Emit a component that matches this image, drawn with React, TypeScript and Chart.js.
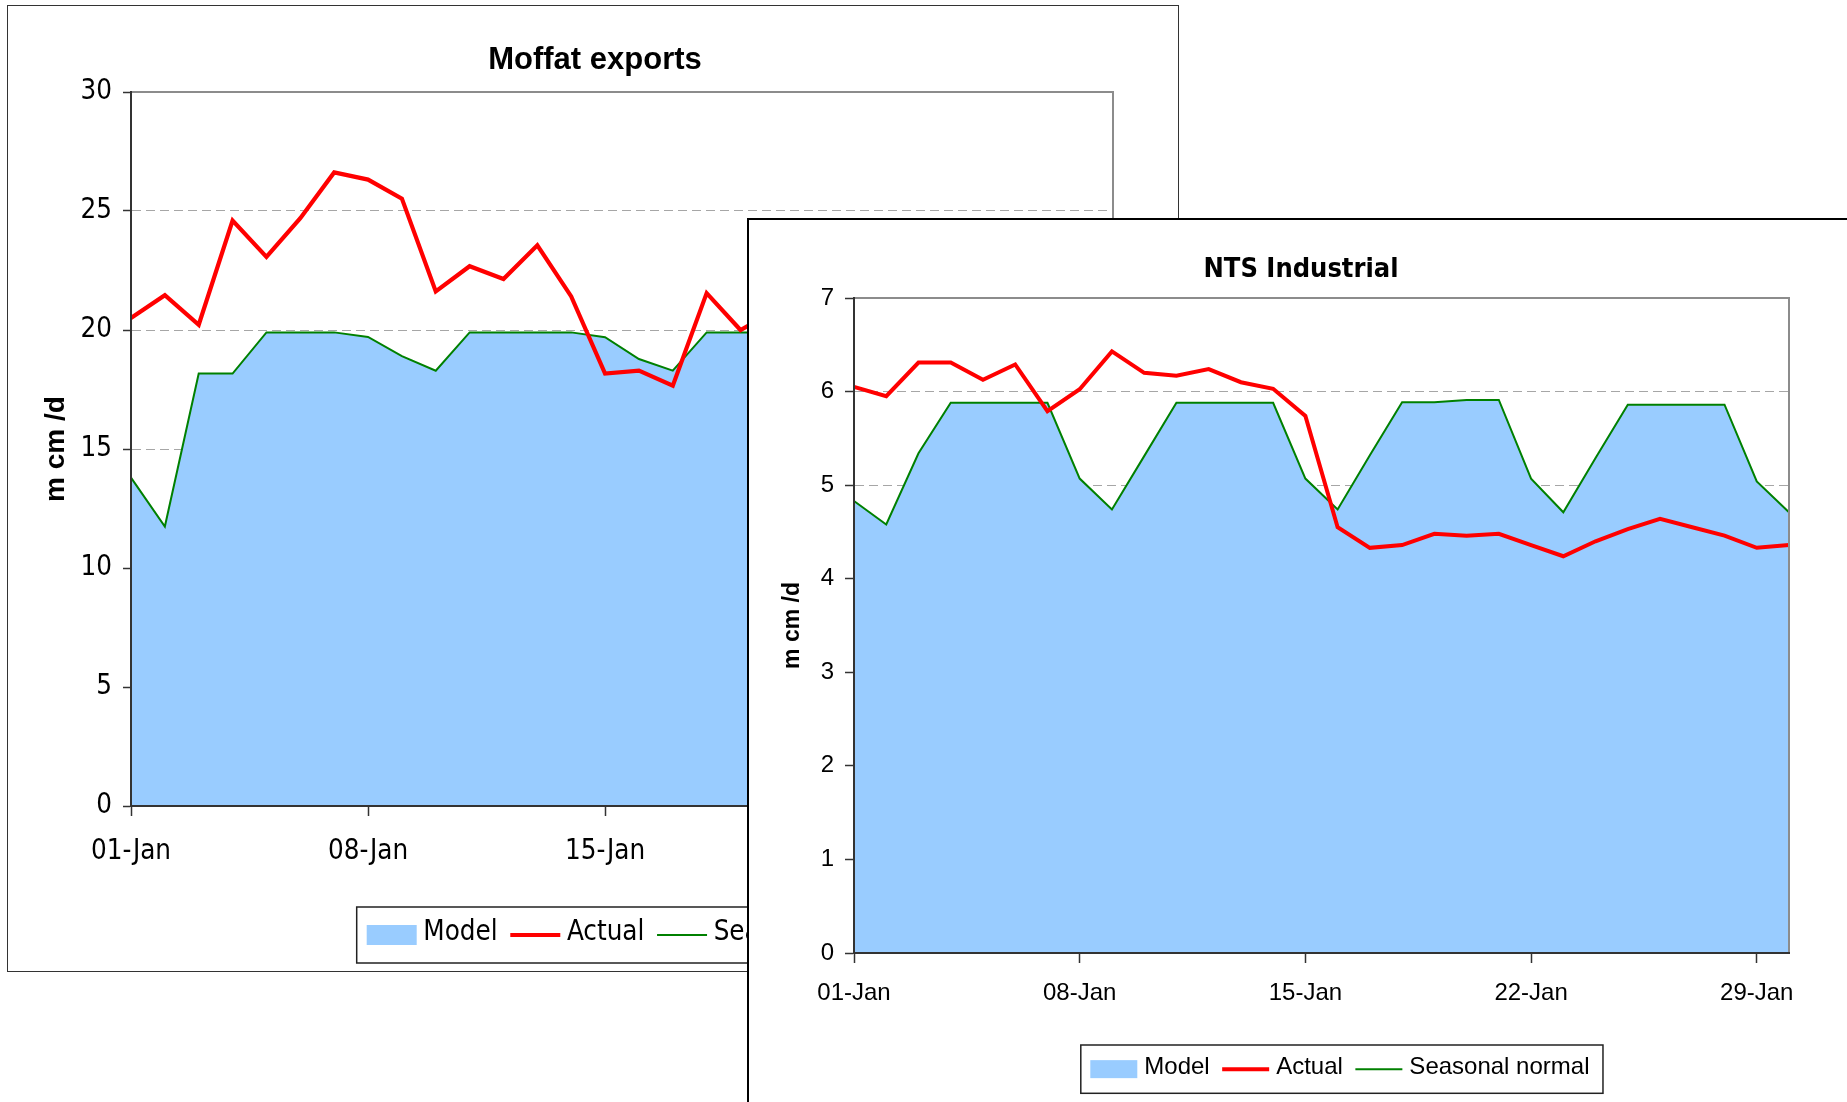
import React, { useEffect, useRef } from "react";
import { Chart, registerables } from "chart.js";

Chart.register(...registerables);

// ---------- data ----------
const days = [
  "01-Jan", "02-Jan", "03-Jan", "04-Jan", "05-Jan", "06-Jan", "07-Jan", "08-Jan", "09-Jan", "10-Jan",
  "11-Jan", "12-Jan", "13-Jan", "14-Jan", "15-Jan", "16-Jan", "17-Jan", "18-Jan", "19-Jan", "20-Jan",
  "21-Jan", "22-Jan", "23-Jan", "24-Jan", "25-Jan", "26-Jan", "27-Jan", "28-Jan", "29-Jan", "30-Jan",
];

const legendLabels = ["Model", "Actual", "Seasonal normal"];

const moffatModel = [
  13.8, 11.74, 18.17, 18.17, 19.9, 19.9, 19.9, 19.71, 18.9, 18.29,
  19.9, 19.9, 19.9, 19.9, 19.7, 18.78, 18.29, 19.9, 19.9, 19.9,
  19.9, 19.9, 19.7, 18.8, 18.3, 19.9, 19.9, 19.9, 19.9, 19.7,
];
const moffatActual = [
  20.5, 21.46, 20.22, 24.6, 23.07, 24.7, 26.62, 26.32, 25.52, 21.62,
  22.68, 22.14, 23.56, 21.41, 18.17, 18.29, 17.66, 21.55, 20.0, 20.8,
  21.3, 20.6, 19.5, 18.6, 18.9, 20.4, 21.0, 20.7, 19.8, 19.4,
];
const moffatSeasonal = [
  13.8, 11.74, 18.17, 18.17, 19.9, 19.9, 19.9, 19.71, 18.9, 18.29,
  19.9, 19.9, 19.9, 19.9, 19.7, 18.78, 18.29, 19.9, 19.9, 19.9,
  19.9, 19.9, 19.7, 18.8, 18.3, 19.9, 19.9, 19.9, 19.9, 19.7,
];

const ntsModel = [
  4.83, 4.58, 5.34, 5.88, 5.88, 5.88, 5.88, 5.07, 4.74, 5.31,
  5.88, 5.88, 5.88, 5.88, 5.07, 4.74, 5.32, 5.886, 5.886, 5.91,
  5.91, 5.07, 4.71, 5.29, 5.86, 5.86, 5.86, 5.86, 5.04, 4.71,
];
const ntsActual = [
  6.05, 5.95, 6.31, 6.31, 6.125, 6.29, 5.79, 6.025, 6.43, 6.2,
  6.17, 6.24, 6.1, 6.03, 5.74, 4.55, 4.33, 4.36, 4.48, 4.46,
  4.48, 4.36, 4.24, 4.4, 4.53, 4.64, 4.55, 4.46, 4.33, 4.36,
];
const ntsSeasonal = [
  4.83, 4.58, 5.34, 5.88, 5.88, 5.88, 5.88, 5.07, 4.74, 5.31,
  5.88, 5.88, 5.88, 5.88, 5.07, 4.74, 5.32, 5.886, 5.886, 5.91,
  5.91, 5.07, 4.71, 5.29, 5.86, 5.86, 5.86, 5.86, 5.04, 4.71,
];

// ---------- styling ----------
const SANS = "'Liberation Sans', Arial, sans-serif";
const NARROW = "'Liberation Sans Narrow', 'Arial Narrow', 'DejaVu Sans Condensed', sans-serif";
const MODEL_COLOR = "#99CCFF";
const ACTUAL_COLOR = "#FF0000";
const SEASONAL_COLOR = "#008000";

const framePlugin = {
  id: "plotFrame",
  afterDatasetsDraw(chart: any) {
    const { ctx, chartArea: a } = chart;
    ctx.save();
    ctx.strokeStyle = "#8c8c8c";
    ctx.lineWidth = 2;
    ctx.beginPath();
    ctx.moveTo(a.left, a.top);
    ctx.lineTo(a.right, a.top);
    ctx.lineTo(a.right, a.bottom);
    ctx.stroke();
    ctx.restore();
  },
};

const titlePlugin = {
  id: "fixedTitle",
  afterDraw(chart: any, _args: any, o: any) {
    const ctx = chart.ctx;
    ctx.save();
    ctx.font = o.font;
    ctx.fillStyle = "#000";
    ctx.textAlign = "center";
    ctx.textBaseline = "middle";
    ctx.fillText(o.text, o.x, o.y);
    ctx.restore();
  },
};

const boxLegendPlugin = {
  id: "boxLegend",
  afterDraw(chart: any, _args: any, o: any) {
    const ctx = chart.ctx;
    ctx.save();
    ctx.font = o.font;
    const cy = o.y + o.h / 2;
    let x = o.x + o.padL;
    const parts: any[] = [];
    for (const lab of legendLabels) {
      const ds = chart.data.datasets.find((d: any) => d.label === lab);
      const tw = ctx.measureText(lab).width;
      parts.push({ lab, ds, x });
      x += o.swatchW + o.textGap + tw + o.itemGap;
    }
    const w = x - o.itemGap + o.padR - o.x;
    ctx.fillStyle = "#fff";
    ctx.fillRect(o.x, o.y, w, o.h);
    ctx.strokeStyle = "#222";
    ctx.lineWidth = 1.5;
    ctx.strokeRect(o.x, o.y, w, o.h);
    for (const p of parts) {
      if (p.ds.fill) {
        ctx.fillStyle = p.ds.backgroundColor;
        ctx.fillRect(p.x, cy - o.swatchH / 2, o.swatchW, o.swatchH);
      } else {
        ctx.strokeStyle = p.ds.borderColor;
        ctx.lineWidth = p.ds.borderWidth;
        ctx.beginPath();
        ctx.moveTo(p.x, cy);
        ctx.lineTo(p.x + o.swatchW, cy);
        ctx.stroke();
      }
      ctx.fillStyle = "#000";
      ctx.textAlign = "left";
      ctx.textBaseline = "middle";
      ctx.fillText(p.lab, p.x + o.swatchW + o.textGap, cy + o.textDy);
    }
    ctx.restore();
  },
};

type Spec = {
  w: number;
  h: number;
  title: string;
  titleFont: string;
  titleX: number;
  titleY: number;
  model: number[];
  actual: number[];
  seasonal: number[];
  yMax: number;
  yStep: number;
  pad: { top: number; right: number; bottom: number; left: number };
  yWidth: number;
  xHeight: number;
  yTitleSize: number;
  yTitlePad: number;
  tickFamily: string;
  tickSize: number;
  yTickLen: number;
  yTickPad: number;
  xTickLen: number;
  xTickPad: number;
  redW: number;
  greenW: number;
  legend: any;
};

function buildConfig(s: Spec): any {
  return {
    type: "line",
    data: {
      labels: days,
      datasets: [
        {
          label: "Actual",
          data: s.actual,
          borderColor: ACTUAL_COLOR,
          backgroundColor: ACTUAL_COLOR,
          borderWidth: s.redW,
          pointRadius: 0,
          fill: false,
          tension: 0,
          order: 0,
        },
        {
          label: "Seasonal normal",
          data: s.seasonal,
          borderColor: SEASONAL_COLOR,
          backgroundColor: SEASONAL_COLOR,
          borderWidth: s.greenW,
          pointRadius: 0,
          fill: false,
          tension: 0,
          order: 1,
        },
        {
          label: "Model",
          data: s.model,
          borderColor: "rgba(0,0,0,0)",
          backgroundColor: MODEL_COLOR,
          borderWidth: 0,
          pointRadius: 0,
          fill: "origin",
          tension: 0,
          order: 2,
        },
      ],
    },
    options: {
      responsive: false,
      animation: false,
      devicePixelRatio: 1,
      events: [],
      layout: { padding: s.pad },
      plugins: {
        legend: { display: false },
        title: { display: false },
        tooltip: { enabled: false },
        fixedTitle: { text: s.title, font: s.titleFont, x: s.titleX, y: s.titleY },
        boxLegend: s.legend,
      },
      scales: {
        x: {
          type: "category",
          offset: false,
          afterFit: (scale: any) => {
            scale.height = s.xHeight;
          },
          ticks: {
            autoSkip: false,
            maxRotation: 0,
            minRotation: 0,
            color: "#000",
            padding: s.xTickPad,
            font: { family: s.tickFamily, size: s.tickSize },
            callback: (_v: any, i: number) => (i % 7 === 0 ? days[i] : ""),
          },
          grid: {
            drawOnChartArea: false,
            color: "rgba(0,0,0,0)",
            tickColor: (c: any) => (c.index % 7 === 0 ? "#333" : "rgba(0,0,0,0)"),
            tickLength: s.xTickLen,
            tickWidth: 1.5,
          },
          border: { color: "#333", width: 2, z: 1 },
        },
        y: {
          min: 0,
          max: s.yMax,
          afterFit: (scale: any) => {
            scale.width = s.yWidth;
          },
          ticks: {
            stepSize: s.yStep,
            color: "#000",
            padding: s.yTickPad,
            font: { family: s.tickFamily, size: s.tickSize },
          },
          grid: {
            color: (c: any) =>
              c.tick && (c.tick.value === 0 || c.tick.value === s.yMax) ? "rgba(0,0,0,0)" : "#a6a6a6",
            lineWidth: 1,
            tickColor: "#333",
            tickLength: s.yTickLen,
            tickWidth: 1.5,
          },
          border: { color: "#333", width: 2, dash: [9, 5], z: 1 },
          title: {
            display: true,
            text: "m cm /d",
            color: "#000",
            font: { family: SANS, size: s.yTitleSize, weight: "bold" },
            padding: { top: s.yTitlePad, bottom: 0 },
          },
        },
      },
    },
    plugins: [framePlugin, titlePlugin, boxLegendPlugin],
  };
}

function ChartBox({ spec, style }: { spec: Spec; style: React.CSSProperties }) {
  const ref = useRef<HTMLCanvasElement>(null);
  useEffect(() => {
    const chart = new Chart(ref.current as HTMLCanvasElement, buildConfig(spec));
    return () => chart.destroy();
  }, []);
  return (
    <div style={style}>
      <canvas
        ref={ref}
        width={spec.w}
        height={spec.h}
        style={{ display: "block", width: spec.w, height: spec.h }}
      />
    </div>
  );
}

const moffatSpec: Spec = {
  w: 1170,
  h: 965,
  title: "Moffat exports",
  titleFont: `bold 31px ${SANS}`,
  titleX: 587,
  titleY: 54,
  model: moffatModel,
  actual: moffatActual,
  seasonal: moffatSeasonal,
  yMax: 30,
  yStep: 5,
  pad: { top: 86, right: 65, bottom: 105, left: 0 },
  yWidth: 123,
  xHeight: 60,
  yTitleSize: 28,
  yTitlePad: 31,
  tickFamily: NARROW,
  tickSize: 27.5,
  yTickLen: 8,
  yTickPad: 11,
  xTickLen: 10,
  xTickPad: 19,
  redW: 4.2,
  greenW: 2,
  legend: {
    x: 348.7,
    y: 901,
    h: 56,
    padL: 10,
    padR: 12,
    swatchW: 50,
    swatchH: 20,
    textGap: 6.6,
    itemGap: 12.7,
    textDy: -2,
    font: `27.5px ${NARROW}`,
  },
};

const ntsSpec: Spec = {
  w: 1098,
  h: 882,
  title: "NTS Industrial",
  titleFont: `bold 27px ${NARROW}`,
  titleX: 552,
  titleY: 50,
  model: ntsModel,
  actual: ntsActual,
  seasonal: ntsSeasonal,
  yMax: 7,
  yStep: 1,
  pad: { top: 78, right: 58, bottom: 94, left: 0 },
  yWidth: 105,
  xHeight: 55,
  yTitleSize: 23,
  yTitlePad: 29.6,
  tickFamily: SANS,
  tickSize: 24,
  yTickLen: 9,
  yTickPad: 11,
  xTickLen: 10,
  xTickPad: 16,
  redW: 4,
  greenW: 2,
  legend: {
    x: 331.8,
    y: 825,
    h: 48.3,
    padL: 9.5,
    padR: 13.5,
    swatchW: 47,
    swatchH: 18,
    textGap: 7,
    itemGap: 12.5,
    textDy: -2,
    font: `24px ${SANS}`,
  },
};

export default function App() {
  return (
    <div
      style={{
        position: "absolute",
        left: 0,
        top: 0,
        width: 1847,
        height: 1102,
        overflow: "hidden",
        background: "#fff",
      }}
    >
      <ChartBox
        spec={moffatSpec}
        style={{
          position: "absolute",
          left: 7,
          top: 5,
          width: 1172,
          height: 967,
          boxSizing: "border-box",
          border: "1px solid #333",
          background: "#fff",
        }}
      />
      <ChartBox
        spec={ntsSpec}
        style={{
          position: "absolute",
          left: 747,
          top: 218,
          width: 1100,
          height: 884,
          boxSizing: "border-box",
          borderTop: "2px solid #000",
          borderLeft: "2px solid #000",
          background: "#fff",
        }}
      />
    </div>
  );
}
